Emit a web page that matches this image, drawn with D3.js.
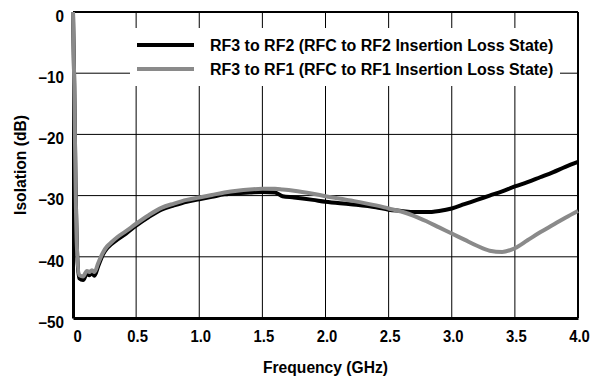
<!DOCTYPE html>
<html>
<head>
<meta charset="UTF-8">
<title>Isolation vs Frequency</title>
<style>
  body { margin: 0; background: #fff; }
  text { font-family: "Liberation Sans", Arial, sans-serif; font-weight: bold; }
</style>
</head>
<body>
<div id="chart"></div>
<script src="https://d3js.org/d3.v7.min.js"></script>
<script>
// frequency points (GHz)
var freq = [0, 0.01, 0.02, 0.03, 0.05, 0.08, 0.11, 0.13, 0.15, 0.17, 0.2, 0.24, 0.27, 0.3, 0.35, 0.42,
            0.5, 0.6, 0.7, 0.8, 0.9, 1.0, 1.1, 1.2, 1.3, 1.4, 1.5, 1.6, 1.66, 1.75, 1.9, 2.0, 2.2, 2.4,
            2.5, 2.6, 2.7, 2.8, 2.9, 3.0, 3.1, 3.2, 3.3, 3.4, 3.5, 3.6, 3.7, 3.8, 3.9, 4.0];
// RF3 to RF2 (black)
var rf2 = [0, -12, -28, -38, -43.5, -43.8, -42.8, -43.0, -42.7, -43.1, -41.5, -39.5, -38.6, -38, -37.2, -36.2,
           -34.9, -33.5, -32.3, -31.6, -31.0, -30.6, -30.2, -29.8, -29.6, -29.5, -29.4, -29.5, -30.1, -30.3, -30.7, -31.0, -31.4, -31.9,
           -32.3, -32.5, -32.7, -32.7, -32.5, -32.1, -31.4, -30.7, -30.0, -29.3, -28.5, -27.8, -27.0, -26.2, -25.3, -24.5];
// RF3 to RF1 (gray)
var rf1 = [0, -12, -28, -38, -43.0, -43.2, -42.3, -42.5, -42.2, -42.5, -41.0, -39.2, -38.3, -37.7, -36.8, -35.8,
           -34.6, -33.2, -32.0, -31.3, -30.7, -30.3, -29.9, -29.5, -29.2, -29.0, -28.9, -28.9, -29.0, -29.2, -29.7, -30.1, -30.8, -31.6,
           -32.1, -32.6, -33.3, -34.2, -35.2, -36.2, -37.2, -38.2, -39.0, -39.2, -38.6, -37.3, -36.0, -34.8, -33.6, -32.5];
var xTicks = [0, 0.5, 1.0, 1.5, 2.0, 2.5, 3.0, 3.5, 4.0];
var xTickLabels = ["0", "0.5", "1.0", "1.5", "2.0", "2.5", "3.0", "3.5", "4.0"];
var yTicks = [0, -10, -20, -30, -40, -50];
var yTickLabels = ["0", "\u201310", "\u201320", "\u201330", "\u201340", "\u201350"];
var legendNames = ["RF3 to RF2 (RFC to RF2 Insertion Loss State)", "RF3 to RF1 (RFC to RF1 Insertion Loss State)"];

var width = 594, height = 379;
var pLeft = 73, pRight = 578, pTop = 12, pBottom = 318;
var narrow = 0.9; // fake condensed face

var svg = d3.select("#chart").append("svg")
    .attr("width", width)
    .attr("height", height);

var x = d3.scaleLinear().domain([0, 4]).range([pLeft, pRight]);
var y = d3.scaleLinear().domain([-50, 0]).range([pBottom, pTop]);

// grid
svg.append("g").selectAll("line").data(xTicks.slice(1, -1)).enter().append("line")
    .attr("x1", d => x(d)).attr("x2", d => x(d))
    .attr("y1", pTop).attr("y2", pBottom)
    .attr("stroke", "#000").attr("stroke-width", 1);
svg.append("g").selectAll("line").data(yTicks.slice(1, -1)).enter().append("line")
    .attr("x1", pLeft).attr("x2", pRight)
    .attr("y1", d => y(d)).attr("y2", d => y(d))
    .attr("stroke", "#000").attr("stroke-width", 1);

// legend box covers grid
svg.append("rect")
    .attr("x", 130).attr("y", 28).attr("width", 430).attr("height", 58)
    .attr("fill", "#fff");

// frame
svg.append("line").attr("x1", pLeft).attr("x2", pRight).attr("y1", pTop).attr("y2", pTop)
    .attr("stroke", "#000").attr("stroke-width", 2);
svg.append("line").attr("x1", pRight).attr("x2", pRight).attr("y1", pTop).attr("y2", pBottom)
    .attr("stroke", "#000").attr("stroke-width", 2);

// axes
var xAxis = d3.axisBottom(x).tickValues(xTicks).tickSize(0)
    .tickFormat((d, i) => xTickLabels[i]);
var yAxis = d3.axisLeft(y).tickValues(yTicks).tickSize(0)
    .tickFormat((d, i) => yTickLabels[i]);

var gx = svg.append("g").attr("transform", "translate(0," + pBottom + ")").call(xAxis);
gx.select(".domain").attr("stroke-width", 3);
gx.selectAll("text").attr("font-size", 16.5).attr("fill", "#000")
    .attr("y", 12).attr("dy", "0.71em")
    .attr("transform", (d, i) => "translate(" + (i === 0 ? 4 : 1) + ",0) scale(" + narrow + ",1)");

var gy = svg.append("g").attr("transform", "translate(" + pLeft + ",0)").call(yAxis);
gy.select(".domain").attr("stroke-width", 3);
gy.selectAll("text").attr("font-size", 17).attr("fill", "#000").attr("x", -10)
    .attr("dy", "0.55em")
    .attr("transform", "scale(" + narrow + ",1)");
svg.selectAll(".tick text").attr("font-family", null);

// lines
var pts2 = freq.map((f, i) => [f, rf2[i]]);
var pts1 = freq.map((f, i) => [f, rf1[i]]);
var line = d3.line().x(d => x(d[0])).y(d => y(d[1])).curve(d3.curveMonotoneX);

var plot = svg.append("g");
plot.append("path").datum(pts2).attr("d", line)
    .attr("fill", "none").attr("stroke", "#000").attr("stroke-width", 4);
plot.append("path").datum(pts1).attr("d", line)
    .attr("fill", "none").attr("stroke", "#8a8a8a").attr("stroke-width", 4);

// legend
var legColors = ["#000", "#8a8a8a"];
var leg = svg.append("g").selectAll("g").data(legendNames).enter().append("g")
    .attr("transform", (d, i) => "translate(0," + (45 + i * 24) + ")");
leg.append("line").attr("x1", 137).attr("x2", 194).attr("y1", 0).attr("y2", 0)
    .attr("stroke", (d, i) => legColors[i]).attr("stroke-width", 4);
leg.append("text").attr("transform", "translate(210,6) scale(0.94,1)")
    .attr("font-size", 17).text(d => d);

// axis titles
svg.append("text").attr("transform", "translate(" + ((pLeft + pRight) / 2) + ",373) scale(0.92,1)")
    .attr("text-anchor", "middle").attr("font-size", 17).text("Frequency (GHz)");
svg.append("text").attr("transform", "translate(26," + ((pTop + pBottom) / 2) + ") rotate(-90) scale(0.92,1)")
    .attr("text-anchor", "middle").attr("font-size", 17).text("Isolation (dB)");
</script>
</body>
</html>
